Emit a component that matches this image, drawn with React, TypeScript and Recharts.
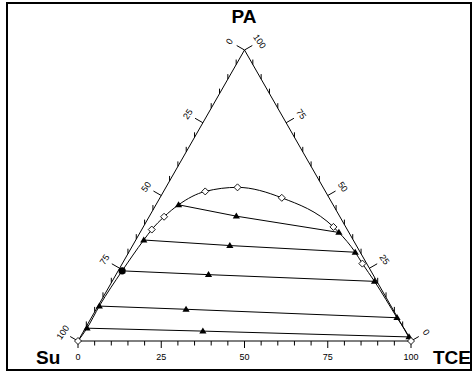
import React from 'react';
import { ComposedChart, XAxis, YAxis, Scatter, Line } from 'recharts';

// Ternary compositions (mass %), PA = top vertex, TCE = right vertex, Su = left vertex
const binodalPoints = [
  { pa: 0, tce: 0 },
  { pa: 38.3, tce: 3.0 },
  { pa: 42.7, tce: 4.5 },
  { pa: 51.4, tce: 12.5 },
  { pa: 52.8, tce: 21.5 },
  { pa: 49.2, tce: 36.6 },
  { pa: 39.2, tce: 57.1 },
  { pa: 26.6, tce: 72.1 },
  { pa: 0, tce: 100 },
];
const tieLeft = [
  { pa: 46.8, tce: 6.8 },
  { pa: 34.7, tce: 2.4 },
  { pa: 24.1, tce: 1.2 },
  { pa: 12.0, tce: 0.4 },
  { pa: 4.4, tce: 0.5 },
];
const tieMid = [
  { pa: 42.9, tce: 26.1 },
  { pa: 32.8, tce: 29.2 },
  { pa: 22.8, tce: 27.8 },
  { pa: 10.9, tce: 27.0 },
  { pa: 3.4, tce: 35.8 },
];
const tieRight = [
  { pa: 37.3, tce: 59.7 },
  { pa: 30.5, tce: 68.0 },
  { pa: 20.5, tce: 78.8 },
  { pa: 8.0, tce: 91.8 },
  { pa: 1.4, tce: 98.7 },
];
const plaitIndex = 2;
const TICKS = [0, 5, 10, 15, 20, 25, 30, 35, 40, 45, 50, 55, 60, 65, 70, 75, 80, 85, 90, 95, 100];
const MAJOR = [0, 25, 50, 75, 100];
const corners = [
  { pa: 0, tce: 0 },
  { pa: 100, tce: 0 },
  { pa: 0, tce: 100 },
  { pa: 0, tce: 0 },
];

const toXY = (p: { pa: number; tce: number }) => ({ x: p.tce + p.pa / 2, y: p.pa });

const FONT = 'Liberation Sans, Arial, sans-serif';
const NL = { x: -0.867, y: -0.497 };
const NR = { x: 0.867, y: -0.497 };

const curveData = [...binodalPoints, ...tieLeft, ...tieRight]
  .map(toXY)
  .sort((a, b) => a.x - b.x);

const edgeData = corners.map(toXY);

const leftTicks = TICKS.map((v) => ({ ...toXY({ pa: 100 - v, tce: 0 }), v }));
const rightTicks = TICKS.map((v) => ({ ...toXY({ pa: v, tce: 100 - v }), v }));
const bottomTicks = TICKS.map((v) => ({ ...toXY({ pa: 0, tce: v }), v }));

const Nothing = () => <g />;

const Diamond = (props: any) => {
  const { cx, cy } = props;
  const r = 3.5;
  return (
    <path
      d={`M${cx},${cy - r}L${cx + r},${cy}L${cx},${cy + r}L${cx - r},${cy}Z`}
      fill="#fff"
      stroke="#000"
      strokeWidth={0.9}
    />
  );
};

const Tri = (props: any) => {
  const { cx, cy } = props;
  return (
    <path
      d={`M${cx},${cy - 3.6}L${cx + 3.6},${cy + 2.4}L${cx - 3.6},${cy + 2.4}Z`}
      fill="#000"
    />
  );
};

const Dot = (props: any) => {
  const { cx, cy } = props;
  return <circle cx={cx} cy={cy} r={3.6} fill="#000" />;
};

const makeTick = (side: 'left' | 'right' | 'bottom') => (props: any) => {
  const { cx, cy, payload } = props;
  const v = payload.v;
  const major = MAJOR.includes(v);
  let x2 = cx;
  let y2 = cy;
  let lx = cx;
  let ly = cy;
  let rot = 0;
  if (side === 'bottom') {
    y2 = cy + (major ? 7 : 4.5);
    ly = cy + 16;
  } else {
    const n = side === 'left' ? NL : NR;
    if (major) {
      x2 = cx + n.x * 9;
      y2 = cy + n.y * 9;
    } else {
      y2 = cy - 5;
    }
    lx = cx + n.x * 17.5;
    ly = cy + n.y * 17.5;
    rot = side === 'left' ? -55 : 55;
  }
  return (
    <g>
      <line x1={cx} y1={cy} x2={x2} y2={y2} stroke="#000" strokeWidth={1} />
      {major && (
        <text
          x={lx}
          y={ly}
          dy="0.35em"
          textAnchor="middle"
          fontSize={9}
          fontFamily={FONT}
          fill="#000"
          transform={rot ? `rotate(${rot} ${lx} ${ly})` : undefined}
        >
          {String(v)}
        </text>
      )}
    </g>
  );
};

export default function App() {
  return (
    <div style={{ position: 'absolute', left: 0, top: 0, width: 472, height: 376, background: '#fff' }}>
      <ComposedChart
        width={472}
        height={376}
        margin={{ top: 50, right: 61, bottom: 35, left: 78 }}
      >
        <XAxis type="number" dataKey="x" domain={[0, 100]} hide />
        <YAxis type="number" dataKey="y" domain={[0, 100]} hide />
        <Scatter
          data={edgeData}
          line={{ stroke: '#000', strokeWidth: 1 }}
          lineType="joint"
          shape={Nothing}
          isAnimationActive={false}
        />
        <Scatter data={leftTicks} shape={makeTick('left')} isAnimationActive={false} />
        <Scatter data={rightTicks} shape={makeTick('right')} isAnimationActive={false} />
        <Scatter data={bottomTicks} shape={makeTick('bottom')} isAnimationActive={false} />
        <Line
          data={curveData}
          dataKey="y"
          type="monotone"
          stroke="#000"
          strokeWidth={1}
          dot={false}
          isAnimationActive={false}
        />
        {tieLeft.map((l, i) => (
          <Scatter
            key={'tie' + i}
            data={[toXY(l), toXY(tieMid[i]), toXY(tieRight[i])]}
            line={{ stroke: '#000', strokeWidth: 1 }}
            lineType="joint"
            shape={Tri}
            isAnimationActive={false}
          />
        ))}
        <Scatter data={binodalPoints.map(toXY)} shape={Diamond} isAnimationActive={false} />
        <Scatter data={[toXY(tieLeft[plaitIndex])]} shape={Dot} isAnimationActive={false} />
      </ComposedChart>
      <svg
        width={472}
        height={376}
        style={{ position: 'absolute', left: 0, top: 0, pointerEvents: 'none' }}
      >
        <text x={244} y={22.5} textAnchor="middle" fontSize={19} fontWeight="bold" fontFamily={FONT}>
          PA
        </text>
        <text x={36} y={364} fontSize={19} fontWeight="bold" fontFamily={FONT}>
          Su
        </text>
        <text x={433} y={363.5} fontSize={19} fontWeight="bold" fontFamily={FONT}>
          TCE
        </text>
      </svg>
      <div
        style={{
          position: 'absolute',
          left: 6,
          top: 2,
          width: 466,
          height: 369,
          border: '2px solid #000',
          boxSizing: 'border-box',
          pointerEvents: 'none',
        }}
      />
    </div>
  );
}
